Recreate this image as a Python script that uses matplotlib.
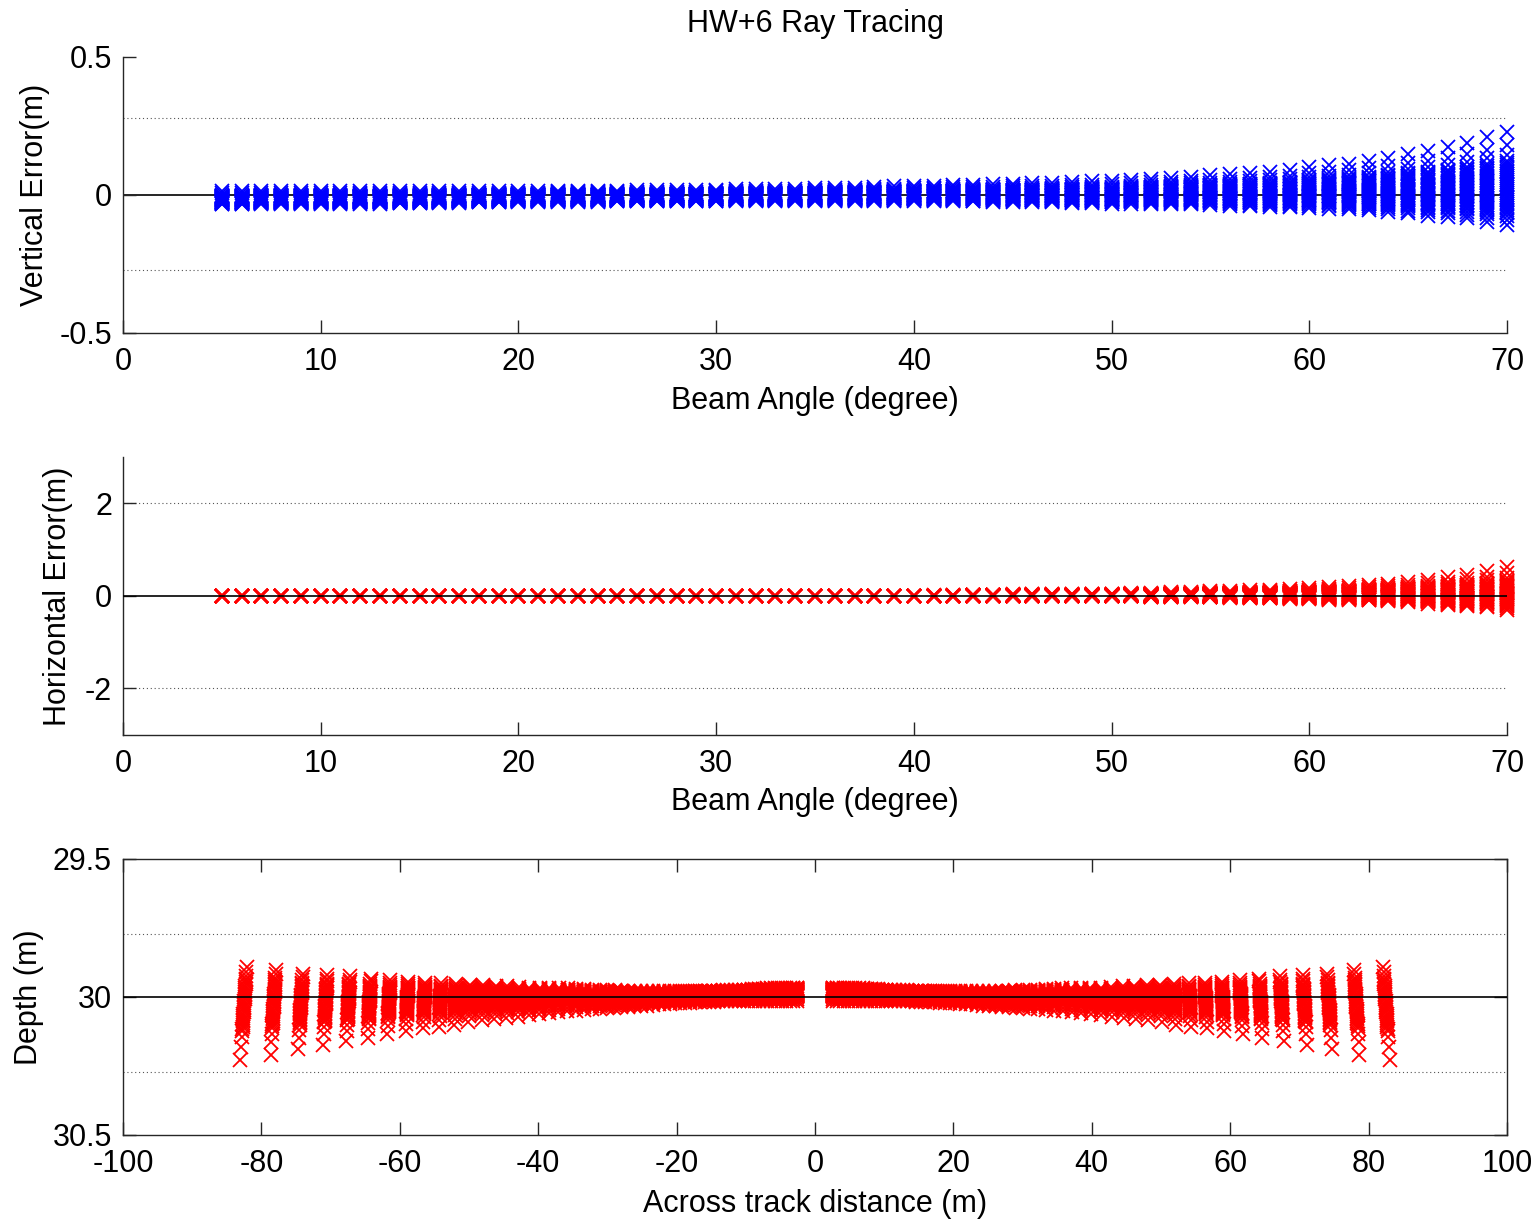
import numpy as np
import matplotlib
matplotlib.use("Agg")
import matplotlib.pyplot as plt

plt.rcParams["font.family"] = ["Liberation Sans", "DejaVu Sans"]
plt.rcParams["axes.unicode_minus"] = False

# Beam angles of the ray-traced soundings (degree)
beam_angle = list(range(5, 71))

# Nominal across-track position of each beam on a flat 30 m seabed (m)
across_track = [
    2.62, 3.15, 3.68, 4.22, 4.75, 5.29, 5.83, 6.38, 6.93, 7.48,
    8.04, 8.60, 9.17, 9.75, 10.33, 10.92, 11.52, 12.12, 12.73, 13.36,
    13.99, 14.63, 15.29, 15.95, 16.63, 17.32, 18.03, 18.75, 19.48, 20.24,
    21.01, 21.80, 22.61, 23.44, 24.29, 25.17, 26.08, 27.01, 27.98, 28.97,
    30.00, 31.07, 32.17, 33.32, 34.51, 35.75, 37.05, 38.40, 39.81, 41.29,
    42.84, 44.48, 46.20, 48.01, 49.93, 51.96, 54.12, 56.42, 58.88, 61.51,
    64.34, 67.38, 70.68, 74.25, 78.15, 82.42,
]

# Lowest / highest vertical error found at each beam angle (m)
vert_err_low = [
    -0.034, -0.034, -0.033, -0.033, -0.033, -0.032, -0.032, -0.031, -0.031, -0.030,
    -0.030, -0.029, -0.028, -0.027, -0.026, -0.025, -0.025, -0.024, -0.024, -0.024,
    -0.023, -0.023, -0.023, -0.022, -0.022, -0.022, -0.022, -0.022, -0.022, -0.022,
    -0.022, -0.021, -0.021, -0.021, -0.021, -0.021, -0.022, -0.022, -0.023, -0.024,
    -0.025, -0.026, -0.027, -0.029, -0.030, -0.031, -0.031, -0.032, -0.033, -0.034,
    -0.036, -0.039, -0.041, -0.043, -0.045, -0.046, -0.049, -0.051, -0.056, -0.061,
    -0.067, -0.075, -0.079, -0.085, -0.097, -0.107,
]
vert_err_high = [
    0.013, 0.013, 0.013, 0.013, 0.013, 0.013, 0.013, 0.013, 0.013, 0.013,
    0.013, 0.014, 0.014, 0.015, 0.015, 0.015, 0.015, 0.016, 0.016, 0.016,
    0.016, 0.017, 0.017, 0.018, 0.018, 0.019, 0.020, 0.021, 0.022, 0.023,
    0.025, 0.026, 0.027, 0.029, 0.031, 0.033, 0.034, 0.036, 0.037, 0.039,
    0.041, 0.043, 0.045, 0.047, 0.049, 0.051, 0.055, 0.059, 0.063, 0.067,
    0.072, 0.075, 0.079, 0.085, 0.091, 0.100, 0.107, 0.114, 0.124, 0.133,
    0.148, 0.158, 0.173, 0.188, 0.209, 0.230,
]

# Lowest / highest horizontal error found at each beam angle (m)
horiz_err_low = [
    0.0, 0.0, 0.0, 0.0, 0.0, 0.0, 0.0, 0.0, 0.0, 0.0,
    0.0, 0.0, 0.0, 0.0, 0.0, 0.0, 0.0, 0.0, 0.0, 0.0,
    0.0, 0.0, 0.0, 0.0, 0.0, 0.0, 0.0, 0.0, 0.0, 0.0,
    0.0, 0.0, 0.0, 0.0, 0.0, 0.0, -0.002, -0.003, -0.004, -0.005,
    -0.006, -0.007, -0.008, -0.009, -0.010, -0.010, -0.010, -0.020, -0.020, -0.020,
    -0.030, -0.035, -0.045, -0.050, -0.060, -0.065, -0.080, -0.090, -0.095, -0.115,
    -0.135, -0.165, -0.195, -0.225, -0.245, -0.295,
]
horiz_err_high = [
    0.0, 0.0, 0.0, 0.0, 0.0, 0.0, 0.0, 0.0, 0.0, 0.0,
    0.0, 0.0, 0.0, 0.0, 0.0, 0.0, 0.0, 0.0, 0.0, 0.0,
    0.0, 0.0, 0.0, 0.0, 0.0, 0.0, 0.0, 0.0, 0.0, 0.0,
    0.0, 0.002, 0.004, 0.006, 0.008, 0.010, 0.012, 0.015, 0.025, 0.030,
    0.035, 0.040, 0.045, 0.045, 0.050, 0.050, 0.065, 0.065, 0.080, 0.085,
    0.100, 0.110, 0.120, 0.140, 0.150, 0.165, 0.195, 0.210, 0.240, 0.270,
    0.310, 0.350, 0.400, 0.460, 0.530, 0.630,
]

# Relative position of each ray-tracing run inside the error spread of a beam
run_fraction = [
    0.00, 0.05, 0.09, 0.12, 0.14, 0.16, 0.18, 0.20, 0.22, 0.24, 0.26,
    0.28, 0.30, 0.32, 0.34, 0.36, 0.38, 0.40, 0.42, 0.44, 0.46, 0.48,
    0.50, 0.52, 0.54, 0.56, 0.58, 0.60, 0.62, 0.64, 0.66, 0.68,
    0.75, 0.85, 1.00,
]

nominal_depth = 30.0
vert_limits = [0.28, -0.272]
horiz_limits = [2.0, -2.0]
depth_limits = [29.773, 30.273]

# ---------------------------------------------------------------------------
angle = np.asarray(beam_angle, float)
frac = np.asarray(run_fraction)
v_lo, v_hi = np.asarray(vert_err_low), np.asarray(vert_err_high)
h_lo, h_hi = np.asarray(horiz_err_low), np.asarray(horiz_err_high)
vert = v_lo[:, None] + frac[None, :] * (v_hi - v_lo)[:, None]
horiz = h_lo[:, None] + frac[None, :] * (h_hi - h_lo)[:, None]
ang = np.repeat(angle[:, None], len(frac), axis=1)
dist = np.asarray(across_track)[:, None] + horiz
depth = nominal_depth + vert

W, H = 1537, 1220
fig = plt.figure(figsize=(W / 100, H / 100), dpi=100)

L, R = 123 / W, 1507 / W


def frame(top_px, bot_px):
    return [L, 1 - bot_px / H, R - L, (bot_px - top_px) / H]


FS = 22
mk = dict(linestyle="none", marker="x", markersize=9.5, markeredgewidth=1.3,
          clip_on=False)


def style(ax, box):
    for s in ax.spines.values():
        s.set_linewidth(1.0)
        s.set_color("#262626")
    if not box:
        ax.spines["top"].set_visible(False)
        ax.spines["right"].set_visible(False)
    ax.tick_params(direction="in", length=9.5, width=1.0, labelsize=FS,
                   top=box, right=box, colors="#262626", labelcolor="black")
    ax.tick_params(axis="x", pad=10)
    ax.tick_params(axis="y", pad=8)


# Vertical error
ax1 = fig.add_axes(frame(57, 333))
ax1.axhline(0, color="black", lw=1.2, zorder=1)
for y in vert_limits:
    ax1.axhline(y, color="#555555", lw=0.8, ls=(0, (1, 2.5)), zorder=1)
ax1.plot(ang.ravel(), vert.ravel(), color="blue", zorder=2, **mk)
ax1.set_xlim(0, 70)
ax1.set_ylim(-0.5, 0.5)
ax1.set_xticks(range(0, 71, 10))
ax1.set_yticks([-0.5, 0, 0.5])
ax1.set_yticklabels(["-0.5", "0", "0.5"])
style(ax1, False)
ax1.set_xlabel("Beam Angle (degree)", fontsize=FS)
ax1.set_ylabel("Vertical Error(m)", fontsize=FS)
ax1.xaxis.set_label_coords(0.5, -0.192)
ax1.yaxis.set_label_coords(-0.053, 0.5)
ax1.text(0.5, 1.12, "HW+6 Ray Tracing", transform=ax1.transAxes,
         ha="center", va="center", fontsize=FS)

# Horizontal error
ax2 = fig.add_axes(frame(457.25, 734.75))
for y in horiz_limits:
    ax2.axhline(y, color="#555555", lw=0.8, ls=(0, (1, 2.5)), zorder=1)
ax2.plot(ang.ravel(), horiz.ravel(), color="red", zorder=2, **mk)
ax2.axhline(0, color="black", lw=1.2, zorder=3)
ax2.set_xlim(0, 70)
ax2.set_ylim(-3, 3)
ax2.set_xticks(range(0, 71, 10))
ax2.set_yticks([-2, 0, 2])
style(ax2, False)
ax2.set_xlabel("Beam Angle (degree)", fontsize=FS)
ax2.set_ylabel("Horizontal Error(m)", fontsize=FS)
ax2.xaxis.set_label_coords(0.5, -0.19)
ax2.yaxis.set_label_coords(-0.036, 0.5)

# Depth profile across the swath (port and starboard)
ax3 = fig.add_axes(frame(859, 1135))
for y in depth_limits:
    ax3.axhline(y, color="#555555", lw=0.8, ls=(0, (1, 2.5)), zorder=1)
ax3.plot(dist.ravel(), depth.ravel(), color="red", zorder=2, **mk)
ax3.plot(-dist.ravel(), depth.ravel(), color="red", zorder=2, **mk)
ax3.axhline(nominal_depth, color="black", lw=1.2, zorder=3)
ax3.set_xlim(-100, 100)
ax3.set_ylim(30.5, 29.5)
ax3.set_xticks(range(-100, 101, 20))
ax3.set_yticks([29.5, 30, 30.5])
ax3.set_yticklabels(["29.5", "30", "30.5"])
style(ax3, True)
ax3.set_xlabel("Across track distance (m)", fontsize=FS)
ax3.set_ylabel("Depth (m)", fontsize=FS)
ax3.xaxis.set_label_coords(0.5, -0.195)
ax3.yaxis.set_label_coords(-0.057, 0.5)

fig.savefig("out.png", dpi=100, facecolor="white")
